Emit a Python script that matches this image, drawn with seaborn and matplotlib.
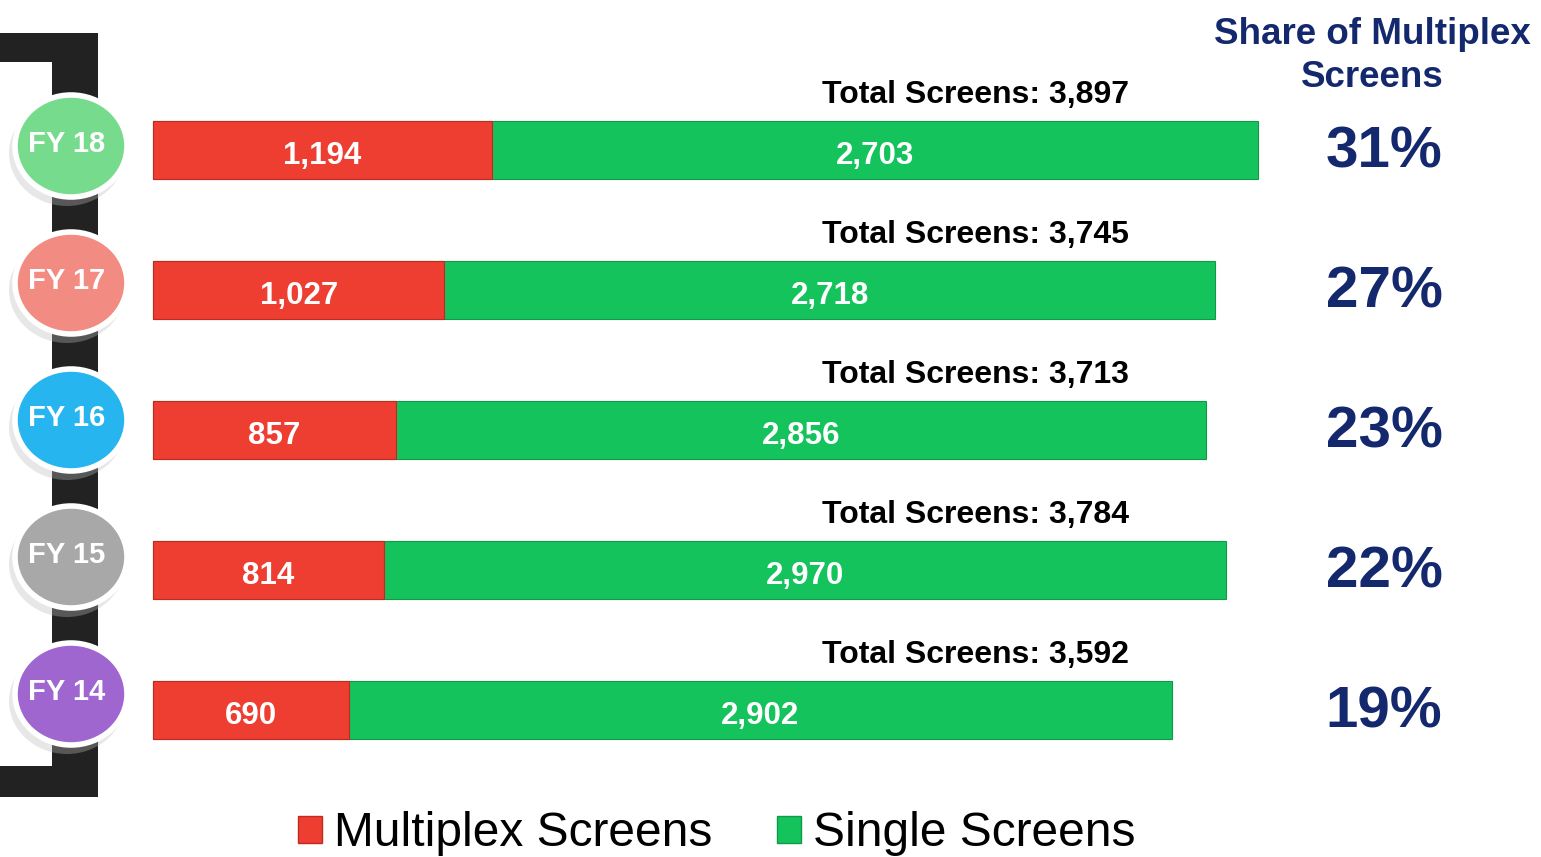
import matplotlib
matplotlib.use("Agg")
import matplotlib.pyplot as plt
import seaborn as sns
import pandas as pd
from matplotlib.patches import Rectangle, Ellipse, Patch

# ---- data ----
years = ["FY 18", "FY 17", "FY 16", "FY 15", "FY 14"]
multiplex = [1194, 1027, 857, 814, 690]
single = [2703, 2718, 2856, 2970, 2902]
totals = [3897, 3745, 3713, 3784, 3592]
share_pct = [31, 27, 23, 22, 19]
circle_colors = ["#77DB8E", "#F28B82", "#26B5EE", "#A8A8A8", "#A066D0"]

RED = "#EE3D31"
GREEN = "#15C35D"
NAVY = "#14286E"

df = pd.DataFrame({"year": years, "multiplex": multiplex,
                   "single": single, "total": totals})

sns.set_theme(style="white")
plt.rcParams["font.family"] = ["Liberation Sans", "DejaVu Sans"]
plt.rcParams["text.color"] = "black"

W, H = 1541, 857
fig = plt.figure(figsize=(W / 100, H / 100), dpi=100)
fig.patch.set_facecolor("white")

ax = fig.add_axes([0, 0, 1, 1])
PX = 0.2836   # pixels per screen unit
X0 = 153      # left edge of bars in pixels
ROW = 140     # pixels per row
Y0 = 150      # pixel y of first bar centre

sns.barplot(data=df, y="year", x="total", color=GREEN, orient="h",
            width=0.42, ax=ax, saturation=1, edgecolor="#0E9A48", linewidth=0.8)
sns.barplot(data=df, y="year", x="multiplex", color=RED, orient="h",
            width=0.42, ax=ax, saturation=1, edgecolor="#C02A20", linewidth=0.8)

ax.set_xlim(-X0 / PX, (W - X0) / PX)
ax.set_ylim((H - Y0) / ROW, -Y0 / ROW)
ax.axis("off")

for i, (m, s, t, p) in enumerate(zip(multiplex, single, totals, share_pct)):
    ax.text(m / 2, i + 0.04, f"{m:,}", ha="center", va="center",
            color="white", fontsize=22.5, fontweight="bold")
    ax.text(m + s / 2, i + 0.04, f"{s:,}", ha="center", va="center",
            color="white", fontsize=22.5, fontweight="bold")
    ax.text((822 - X0) / PX, i - 0.39, f"Total Screens: {t:,}", ha="left",
            va="center", color="black", fontsize=23, fontweight="bold")
    ax.text((1384 - X0) / PX, i + 0.02, f"{p}%", ha="center", va="center",
            color=NAVY, fontsize=42, fontweight="bold")

ax.text((1372 - X0) / PX, (56 - Y0) / ROW, "Share of Multiplex\nScreens",
        ha="center", va="center", color=NAVY, fontsize=26.5,
        fontweight="bold", linespacing=1.33)

# ---- decorative bracket and year circles (pixel overlay) ----
ov = fig.add_axes([0, 0, 1, 1], zorder=3)
ov.set_xlim(0, W)
ov.set_ylim(H, 0)
ov.axis("off")
ov.patch.set_alpha(0)

DARK = "#222222"
ov.add_patch(Rectangle((52, 33), 46, 764, color=DARK, lw=0))
ov.add_patch(Rectangle((0, 33), 98, 29, color=DARK, lw=0))
ov.add_patch(Rectangle((0, 766), 98, 31, color=DARK, lw=0))

for i, (lab, col) in enumerate(zip(years, circle_colors)):
    cy = 146 + 137 * i
    cx = 71
    ov.add_patch(Ellipse((cx - 4, cy + 7), 116, 106, color="#BBBBBB",
                         alpha=0.35, lw=0))
    ov.add_patch(Ellipse((cx, cy), 112, 102, facecolor=col,
                         edgecolor="white", lw=4))
    ov.text(cx - 4, cy - 2, lab, ha="center", va="center", color="white",
            fontsize=21, fontweight="bold")

# ---- legend ----
handles = [Patch(facecolor=RED, edgecolor="#C02A20", label="Multiplex Screens"),
           Patch(facecolor=GREEN, edgecolor="#0E9A48", label="Single Screens")]
fig.legend(handles=handles, loc="center", bbox_to_anchor=(717 / W, 1 - 834 / H),
           ncol=2, frameon=False, fontsize=34.5, handlelength=0.5,
           handleheight=0.5, handletextpad=0.25, columnspacing=1.35,
           labelcolor="black")

fig.savefig("out.png", dpi=100, facecolor="white")
